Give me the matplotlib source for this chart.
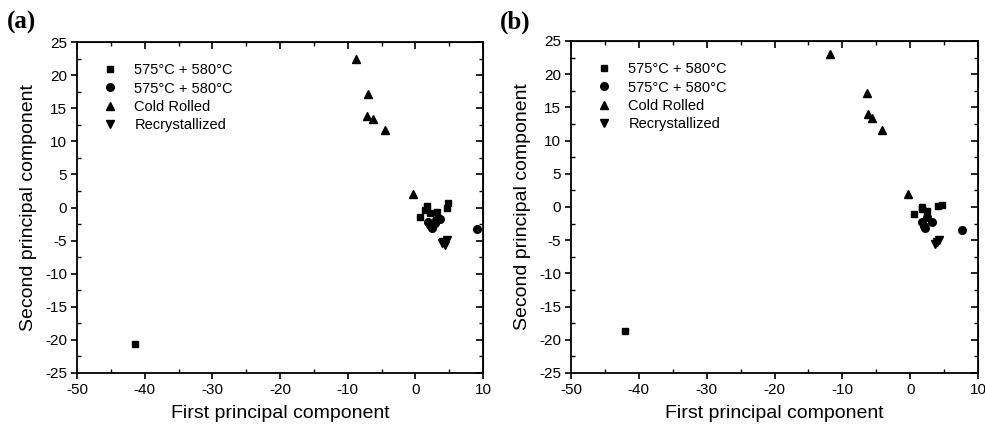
import matplotlib
matplotlib.use("Agg")
import matplotlib.pyplot as plt
from matplotlib.ticker import MultipleLocator

plt.rcParams['font.family'] = ['Liberation Sans', 'DejaVu Sans']
plt.rcParams['axes.unicode_minus'] = False

labels = ['575\u00b0C + 580\u00b0C',
          '575\u00b0C + 580\u00b0C',
          'Cold Rolled', 'Recrystallized']
markers = ['s', 'o', '^', 'v']
msizes = [5, 5.5, 5.8, 5.8]

# Panel (a)
a_sq_x = [-41.4, 1.7, 0.7, 4.8, 4.7, 3.2, 2.2, 1.5]
a_sq_y = [-20.6, 0.2, -1.4, 0.7, -0.1, -0.7, -0.8, -0.4]
a_ci_x = [2.5, 3.6, 9.1, 1.9, 2.9, 2.2, 3.1]
a_ci_y = [-3.1, -1.7, -3.2, -2.2, -2.4, -2.7, -1.9]
a_up_x = [-8.8, -7.0, -7.1, -6.3, -4.5, -0.3]
a_up_y = [22.5, 17.1, 13.8, 13.4, 11.7, 2.1]
a_dn_x = [4.1, 4.7, 4.0, 4.4]
a_dn_y = [-5.2, -4.9, -5.4, -5.6]

# Panel (b)
b_sq_x = [-42.0, 1.8, 0.5, 4.7, 4.1, 2.5, 1.8]
b_sq_y = [-18.6, 0.0, -1.1, 0.3, 0.1, -0.6, -0.3]
b_ci_x = [1.8, 3.2, 2.2, 7.6, 2.5, 2.0]
b_ci_y = [-2.3, -2.3, -3.2, -3.4, -1.5, -2.8]
b_up_x = [-11.8, -6.4, -6.2, -5.6, -4.2, -0.3]
b_up_y = [23.0, 17.2, 14.0, 13.4, 11.6, 1.9]
b_dn_x = [4.0, 4.3, 3.7]
b_dn_y = [-5.3, -4.9, -5.6]

panels = [
    ('(a)', [(a_sq_x, a_sq_y), (a_ci_x, a_ci_y), (a_up_x, a_up_y), (a_dn_x, a_dn_y)],
     [77/985, 61/434, 406/985, 331/434], (7/985, 1 - 29/434)),
    ('(b)', [(b_sq_x, b_sq_y), (b_ci_x, b_ci_y), (b_up_x, b_up_y), (b_dn_x, b_dn_y)],
     [571/985, 61/434, 407/985, 332/434], (500/985, 1 - 29/434)),
]

fig = plt.figure(figsize=(9.85, 4.34), dpi=100)
for tag, series, rect, tagpos in panels:
    ax = fig.add_axes(rect)
    for (xs, ys), m, ms, lab in zip(series, markers, msizes, labels):
        ax.plot(xs, ys, linestyle='none', marker=m, markersize=ms,
                color='black', label=lab)
    ax.set_xlim(-50, 10)
    ax.set_ylim(-25, 25)
    ax.xaxis.set_major_locator(MultipleLocator(10))
    ax.xaxis.set_minor_locator(MultipleLocator(5))
    ax.yaxis.set_major_locator(MultipleLocator(5))
    ax.yaxis.set_minor_locator(MultipleLocator(2.5))
    ax.tick_params(which='major', direction='out', length=4, width=1.2,
                   labelsize=11, top=False, right=False, pad=3)
    ax.tick_params(which='minor', direction='in', length=3, width=1,
                   top=False, right=False)
    for s in ax.spines.values():
        s.set_linewidth(1.3)
    sx = ax.secondary_xaxis('top')
    sx.xaxis.set_major_locator(MultipleLocator(10))
    sx.xaxis.set_minor_locator(MultipleLocator(5))
    sx.tick_params(which='major', direction='in', length=5, width=1.2, labeltop=False)
    sx.tick_params(which='minor', direction='in', length=3, width=1)
    sy = ax.secondary_yaxis('right')
    sy.yaxis.set_major_locator(MultipleLocator(5))
    sy.yaxis.set_minor_locator(MultipleLocator(2.5))
    sy.tick_params(which='major', direction='in', length=5, width=1.2, labelright=False)
    sy.tick_params(which='minor', direction='in', length=3, width=1)
    ax.set_xlabel('First principal component', fontsize=14, labelpad=6)
    ax.set_ylabel('Second principal component', fontsize=14, labelpad=6)
    ax.legend(loc='upper left', frameon=False, fontsize=10.5, handletextpad=1.3,
              labelspacing=0.3, borderaxespad=0.6, handlelength=0.8,
              bbox_to_anchor=(0.03, 0.98))
    fig.text(tagpos[0], tagpos[1], tag, fontsize=18, fontweight='bold',
             family='Liberation Serif', ha='left', va='baseline')

fig.savefig('out.png', dpi=100)
